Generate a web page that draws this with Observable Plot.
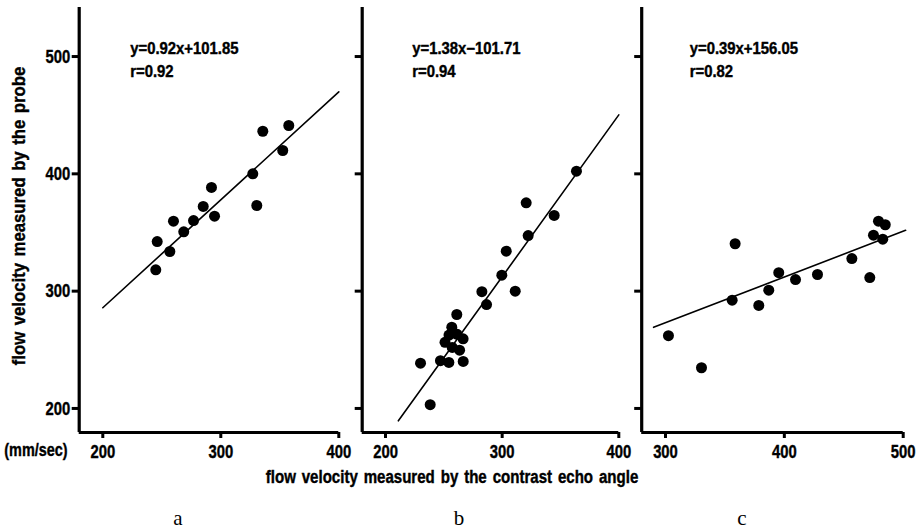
<!DOCTYPE html>
<html>
<head>
<meta charset="utf-8">
<script src="https://cdn.jsdelivr.net/npm/d3@7"></script>
<script src="https://cdn.jsdelivr.net/npm/@observablehq/plot@0.6"></script>
<style>
  html, body { margin: 0; padding: 0; background: white; }
  #wrap { position: relative; width: 919px; height: 530px; background: white; overflow: hidden; }
  #wrap svg { position: absolute; left: 0; top: 0; }
  .lab { position: absolute; font-family: "Liberation Sans", Arial, sans-serif; font-weight: bold; color: black; white-space: nowrap; -webkit-text-stroke: 0.4px black; }
  .let { position: absolute; font-family: "Liberation Serif", "DejaVu Serif", serif; font-size: 21px; color: black; transform: translate(-50%, -50%); }
</style>
</head>
<body>
<div id="wrap"></div>
<script>
// ---------- data ----------
const yDomain = [179.5, 541.8];
const yTicks = [200, 300, 400, 500];

// panel a
const xDomainA = [180, 400];
const xTicksA = [200, 300, 400];
const aX = [244.9, 246.1, 256.8, 259.9, 268.6, 276.9, 285.1, 292.1, 294.7, 327.1, 330.5, 335.6, 352.5, 357.6];
const aY = [318.2, 342.3, 333.8, 359.6, 350.6, 360.2, 372.2, 388.4, 363.9, 400.0, 373.0, 436.3, 419.9, 441.2];
const eqA = ["y=0.92x+101.85", "r=0.92"];
const coefA = [0.92, 101.85];
const fitRangeA = [200, 400];

// panel b
const xDomainB = [180, 400];
const xTicksB = [200, 300, 400];
const bX = [363.7, 320.6, 344.6, 322.3, 303.5, 299.7, 282.6, 311.2, 286.6, 261.1, 256.8,
            254.4, 261.4, 266.5, 251.0, 257.2, 263.5, 230.0, 247.1, 254.3, 266.6, 238.3];
const bY = [402.3, 375.3, 364.5, 347.4, 334.1, 313.6, 299.5, 300.0, 288.6, 280.1, 269.3,
            262.6, 263.2, 259.4, 256.4, 252.0, 249.7, 238.6, 240.7, 239.2, 240.1, 203.2];
const eqB = ["y=1.38x\u2212101.71", "r=0.94"];
const coefB = [1.38, -101.71];
const fitRangeB = [211, 400];

// panel c
const xDomainC = [280, 500];
const xTicksC = [300, 400, 500];
const cX = [302.5, 330.3, 358.6, 356.1, 378.5, 386.9, 395.3, 409.4, 427.9, 456.8, 471.9, 475.0, 479.2, 484.9, 482.8];
const cY = [262.0, 234.7, 340.4, 292.3, 287.8, 300.8, 315.7, 309.9, 314.2, 327.8, 311.6, 347.7, 359.6, 356.6, 344.3];
const eqC = ["y=0.39x+156.05", "r=0.82"];
const coefC = [0.39, 156.05];
const fitRangeC = [290, 502];

const panelLetters = ["a", "b", "c"];
const yTitle = "flow velocity measured by the probe";
const xTitle = "flow velocity measured by the contrast echo angle";
const unitText = "(mm/sec)";

// ---------- drawing ----------
const W = 919, H = 530;
const FONT = '"Liberation Sans", Arial, sans-serif';
const NARROW = 0.78;

function narrowText(svg, label, s) {
  svg.querySelectorAll(`g[aria-label="${label}"] text`).forEach(t => {
    const tr = t.getAttribute("transform") || "";
    t.setAttribute("transform", tr + ` scale(${s},1)`);
  });
}

function panel({xDomain, xTicks, xs, ys, eq, coef, fitRange, left, right, yLabels, eqDx}) {
  const pts = xs.map((x, i) => ({x, y: ys[i]}));
  const fit = fitRange.map(x => ({x, y: coef[0] * x + coef[1]}));
  const svg = Plot.plot({
    width: W, height: H,
    marginLeft: left, marginRight: W - right, marginTop: 7, marginBottom: H - 432,
    x: {domain: xDomain},
    y: {domain: yDomain},
    style: {background: "transparent", overflow: "visible", color: "black"},
    marks: [
      Plot.axisY({ticks: yTicks, tickSize: 7, strokeWidth: 3, tickPadding: 2,
        fill: yLabels ? "black" : "none", label: null,
        textStroke: "black", textStrokeWidth: 0.4,
        fontFamily: FONT, fontWeight: "bold", fontSize: 19}),
      Plot.axisX({ticks: xTicks, tickSize: 6, strokeWidth: 3, tickPadding: 6, label: null,
        textStroke: "black", textStrokeWidth: 0.4,
        fontFamily: FONT, fontWeight: "bold", fontSize: 19}),
      Plot.ruleX([xDomain[0]], {strokeWidth: 3.2, stroke: "black"}),
      Plot.ruleY([yDomain[0]], {strokeWidth: 3.2, stroke: "black"}),
      Plot.line(fit, {x: "x", y: "y", stroke: "black", strokeWidth: 1.6}),
      Plot.dot(pts, {x: "x", y: "y", r: 5.5, fill: "black", stroke: "none"}),
      Plot.text([eq.join("\n")], {frameAnchor: "top-left", dx: eqDx, dy: 30.5,
        lineAnchor: "top", textAnchor: "start", lineHeight: 1.44,
        stroke: "black", strokeWidth: 0.4,
        fontFamily: FONT, fontWeight: "bold", fontSize: 16, fill: "black"})
    ]
  });
  narrowText(svg, "y-axis tick label", NARROW);
  narrowText(svg, "x-axis tick label", NARROW);
  narrowText(svg, "text", 0.93);
  return svg;
}

const wrap = document.getElementById("wrap");
wrap.appendChild(panel({xDomain: xDomainA, xTicks: xTicksA, xs: aX, ys: aY, eq: eqA, coef: coefA,
  fitRange: fitRangeA, left: 78.7, right: 338.3, yLabels: true, eqDx: 51}));
wrap.appendChild(panel({xDomain: xDomainB, xTicks: xTicksB, xs: bX, ys: bY, eq: eqB, coef: coefB,
  fitRange: fitRangeB, left: 361.7, right: 618.3, yLabels: false, eqDx: 50}));
wrap.appendChild(panel({xDomain: xDomainC, xTicks: xTicksC, xs: cX, ys: cY, eq: eqC, coef: coefC,
  fitRange: fitRangeC, left: 641.2, right: 902.7, yLabels: false, eqDx: 48}));

function addDiv(cls, text, style) {
  const d = document.createElement("div");
  d.className = cls;
  d.textContent = text;
  Object.assign(d.style, style);
  wrap.appendChild(d);
  return d;
}
addDiv("lab", unitText, {left: "36px", top: "450px", fontSize: "18.5px", lineHeight: "20px",
  transform: `translate(-50%, -50%) scale(${NARROW}, 1)`});
addDiv("lab", yTitle, {left: "19px", top: "216px", fontSize: "18px", wordSpacing: "2px",
  transform: "translate(-50%, -50%) rotate(-90deg) scale(0.93, 1)"});
addDiv("lab", xTitle, {left: "452px", top: "477px", fontSize: "17.5px", wordSpacing: "2px",
  transform: "translate(-50%, -50%) scale(0.86, 1)"});
const letterX = [178, 459, 742];
panelLetters.forEach((t, i) => addDiv("let", t, {left: letterX[i] + "px", top: "518px"}));
</script>
</body>
</html>
